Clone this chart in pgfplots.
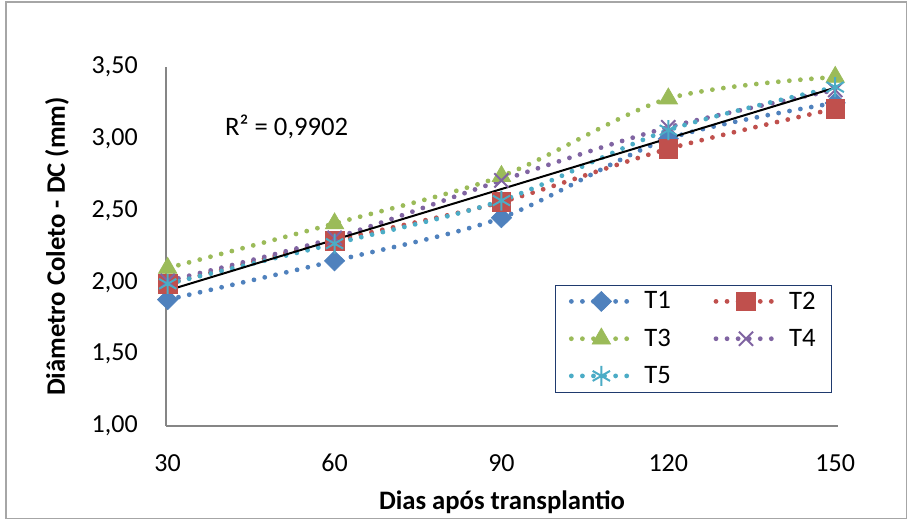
\documentclass[border=0pt]{standalone}
\usepackage{pgfplots}
\pgfplotsset{compat=1.18}
\usepackage{fontspec}
\setmainfont{Carlito}
\definecolor{c1}{HTML}{4F81BD}
\definecolor{c2}{HTML}{C0504D}
\definecolor{c3}{HTML}{9BBB59}
\definecolor{c4}{HTML}{8064A2}
\definecolor{c5}{HTML}{4BACC6}
\definecolor{axgray}{HTML}{868686}
\definecolor{legnavy}{HTML}{1F3A6E}
\begin{document}
\begin{tikzpicture}
\useasboundingbox (-124.5pt,-70.5pt) rectangle (555.75pt,319.5pt);
\draw[gray!70, line width=1.1pt] (-120pt,-69.5pt) rectangle (555.5pt,318pt);
\begin{axis}[
  at={(0pt,0pt)}, anchor=south west,
  scale only axis, width=504pt, height=269.25pt,
  xmin=29.7, xmax=150.5, ymin=1, ymax=3.5,
  axis lines=left, axis line style={axgray, line width=1.1pt, -},
  xtick={30,60,90,120,150}, ytick={1,1.5,2,2.5,3,3.5},
  major tick length=0pt,
  /pgf/number format/assume math mode=true,
  yticklabel={\pgfmathprintnumber[fixed, fixed zerofill, precision=2, use comma]{\tick}},
  xticklabel={\pgfmathprintnumber{\tick}},
  tick label style={font=\fontsize{19.5}{22}\selectfont},
  yticklabel style={inner sep=0pt, anchor=east, xshift=-21pt},
  xticklabel style={inner sep=0pt, anchor=north, yshift=-21pt},
  xlabel={Dias após transplantio},
  ylabel={Diâmetro Coleto - DC (mm)},
  label style={font=\bfseries\fontsize{20}{24}\selectfont},
  xlabel style={at={(axis description cs:0.5,0)}, anchor=center, yshift=-57.5pt},
  ylabel style={at={(axis description cs:0,0.5)}, anchor=center, yshift=81.75pt},
  every axis plot/.append style={smooth, line width=3.6pt, line cap=round, dash pattern=on 0pt off 8.3pt},
  legend columns=2,
  legend cell align=left,
  legend image code/.code={\draw[mark repeat=2,mark phase=2,#1] plot coordinates {(0pt,0pt) (22.5pt,0pt) (45pt,0pt)};},
  legend style={at={(rel axis cs:0.579,0.394)}, anchor=north west, draw=legnavy, line width=0.8pt,
    font=\fontsize{20}{22}\selectfont, row sep=9.5pt, inner xsep=10pt, inner ysep=3pt,
    /tikz/every odd column/.append style={column sep=6pt},
    /tikz/every even column/.append style={column sep=30pt}},
]
\addplot[c1, mark=diamond*, mark options={solid, xscale=1.35, line width=0.5pt}, mark size=7.5pt] coordinates {(30,1.88) (60,2.15) (90,2.45) (120,3.00) (150,3.25)};
\addlegendentry{T1}
\addplot[c2, mark=square*, mark options={solid, line width=0.5pt}, mark size=7pt] coordinates {(30,1.99) (60,2.29) (90,2.56) (120,2.93) (150,3.21)};
\addlegendentry{T2}
\addplot[c3, mark=triangle*, mark options={solid, line width=0.5pt}, mark size=8pt] coordinates {(30,2.10) (60,2.41) (90,2.74) (120,3.28) (150,3.43)};
\addlegendentry{T3}
\addplot[c4, mark=x, mark options={solid, line width=1.5pt, line cap=butt}, mark size=7.5pt] coordinates {(30,2.01) (60,2.31) (90,2.71) (120,3.08) (150,3.34)};
\addlegendentry{T4}
\addplot[c5, mark=asterisk, mark options={solid, line width=1.5pt, line cap=butt}, mark size=7.5pt] coordinates {(30,1.99) (60,2.27) (90,2.57) (120,3.06) (150,3.36)};
\addlegendentry{T5}
\addplot[black, line width=1.5pt, solid, sharp plot, no marks, forget plot] coordinates {(30,1.944) (150,3.356)};
\node[font=\fontsize{20}{24}\selectfont] at (axis cs:51.4,3.08) {R² = 0,9902};
\end{axis}
\end{tikzpicture}
\end{document}
